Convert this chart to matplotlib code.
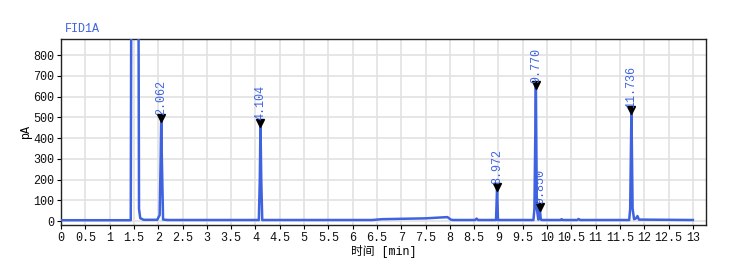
import numpy as np
from matplotlib import pyplot as plt

# chromatogram trace (time in min, signal in pA)
time = [0.0, 1.435, 1.445, 1.595, 1.605, 1.63, 1.70, 1.98, 2.03, 2.05, 2.062, 2.075, 2.10, 2.20,
        4.07, 4.09, 4.104, 4.12, 4.14, 6.40, 6.60, 7.50, 7.95, 8.02, 8.06, 8.52, 8.55,
        8.58, 8.95, 8.972, 8.99, 9.72, 9.74, 9.77, 9.79, 9.82, 9.85, 9.87, 9.90, 10.28,
        10.30, 10.32, 10.62, 10.65, 10.68, 10.75, 11.69, 11.71, 11.736, 11.76, 11.79,
        11.83, 11.86, 11.89, 13.0]
signal = [5, 5, 1000, 1000, 60, 15, 7, 7, 30, 300, 497, 300, 8, 6,
          6, 200, 473, 200, 6, 6, 10, 14, 20, 8, 6, 6, 13,
          6, 6, 165, 6, 6, 60, 655, 60, 8, 70, 8, 6, 6,
          10, 6, 6, 11, 6, 6, 6, 60, 535, 60, 10,
          14, 25, 8, 6]

peak_rt = [2.062, 4.104, 8.972, 9.770, 9.850, 11.736]
peak_h = [497, 473, 165, 655, 70, 535]
peak_labels = ['2.062', '4.104', '8.972', '9.770', '9.850', '11.736']

blue = '#3f63e0'

plt.rcParams['font.family'] = ['Liberation Mono', 'Noto Sans CJK SC']
fig = plt.figure(figsize=(7.36, 2.77), dpi=100)
ax = fig.add_axes([61/736, 1-225/277, 645/736, 186/277])

ax.plot(time, signal, color=blue, lw=1.8, zorder=3)
ax.plot(peak_rt, peak_h, 'v', color='black', ms=5.5, zorder=4)
for rt, h, lab in zip(peak_rt, peak_h, peak_labels):
    ax.text(rt, h + 12, lab, rotation=90, ha='center', va='bottom',
            color=blue, fontsize=8.5, zorder=5)

ax.set_xlim(0, 13.27)
ax.set_ylim(-18, 877)
ax.set_xticks(np.arange(0, 13.01, 0.5))
ax.set_xticklabels(['%g' % v for v in np.arange(0, 13.01, 0.5)])
ax.set_yticks(range(0, 801, 100))
ax.tick_params(labelsize=8.5, length=3, width=0.8, pad=2, labelcolor='#111111')
ax.grid(True, color='#e2e2e2', lw=1.2)
ax.set_axisbelow(True)
for s in ax.spines.values():
    s.set_linewidth(1.0)
    s.set_color('#222222')

ax.set_xlabel('时间 [min]', fontsize=8.5, labelpad=1,
              family=['Liberation Mono', 'Noto Sans CJK SC'])
ax.set_ylabel('pA', fontsize=8.5, labelpad=1)
fig.text(65/736, 1-29/277, 'FID1A', color=blue, fontsize=8.5, ha='left', va='center')

plt.savefig('out.png', dpi=100)
